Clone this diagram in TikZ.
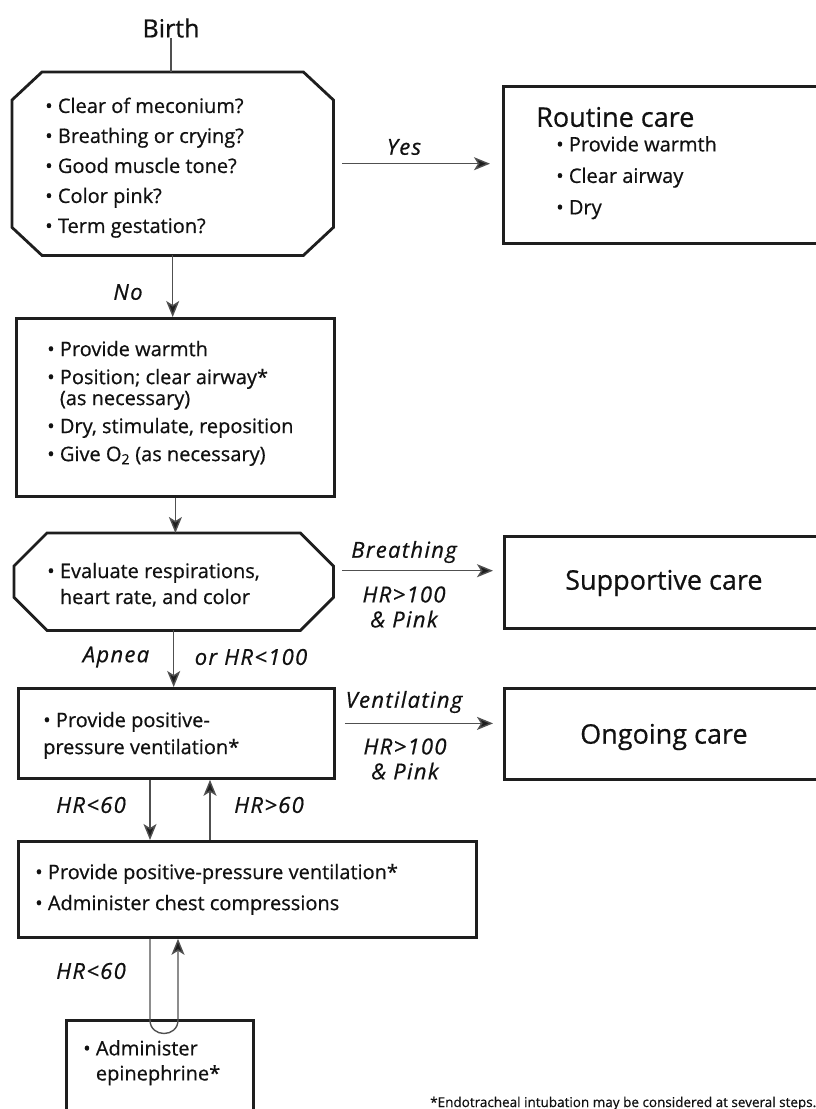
\documentclass[tikz,border=0pt]{standalone}
\usepackage{fontspec}
\setmainfont{Open Sans}[FakeBold=0.6]
\usetikzlibrary{arrows.meta,calc}
\definecolor{ink}{HTML}{111111}
\definecolor{pen}{HTML}{1E1E1E}
\definecolor{wire}{HTML}{505050}
\tikzset{
  frame/.style={draw=pen, line width=2.8pt, inner sep=0pt, minimum width=#1},
  ghost/.style={draw=none, inner sep=0pt},
  octpen/.style={draw=pen, line width=2.8pt, line join=miter},
  body/.style={text=ink, inner sep=0pt, align=left, font=\fontsize{20}{30}\selectfont},
  title/.style={text=ink, inner sep=0pt, align=left, font=\fontsize{27}{32}\selectfont},
  lbl/.style={text=ink, inner sep=0pt, font=\fontsize{22}{24}\selectfont\itshape\addfontfeatures{LetterSpace=6}},
  wireline/.style={draw=wire, line width=1.4pt},
  arr/.style={wireline, -{Stealth[length=16pt,width=13pt,inset=4pt,fill=pen]}},
}
\newcommand{\bul}{\textbullet\ }
\newcommand{\hang}{\hphantom{\textbullet\ }}
\begin{document}
\begin{tikzpicture}[x=1pt,y=-1pt]
\useasboundingbox (0,0) rectangle (816,1109);
\clip (0,0) rectangle (816,1109);
\fill[white] (0,0) rectangle (816,1109);

% ---------- Birth ----------
\node[text=ink, inner sep=0pt, font=\fontsize{25}{28}\selectfont] (birth) at (171,28) {Birth};

% ---------- octagon 1 ----------
\node[ghost, anchor=north west, minimum width=321pt, minimum height=183pt] (q1) at (12,72) {};
\draw[octpen] ($(q1.north west)+(30,0)$) -- ($(q1.north east)+(-30,0)$) -- ($(q1.north east)+(0,28)$)
  -- ($(q1.south east)+(0,-28)$) -- ($(q1.south east)+(-30,0)$) -- ($(q1.south west)+(30,0)$)
  -- ($(q1.south west)+(0,-28)$) -- ($(q1.north west)+(0,28)$) -- cycle;
\node[body, anchor=west] (q1t) at ($(q1.west)+(33,4)$) {\bul Clear of meconium?\\ \bul Breathing or crying?\\ \bul Good muscle tone?\\ \bul Color pink?\\ \bul Term gestation?};

% ---------- routine care ----------
\node[frame=400pt, anchor=north west, minimum height=157pt] (rout) at (502,85) {};
\node[title, anchor=west] (routt) at (536,117) {Routine care};
\node[body, anchor=north west, font=\fontsize{20}{31.5}\selectfont] (routb) at (556,136) {\bul Provide warmth\\ \bul Clear airway\\ \bul Dry};

% ---------- box 2 ----------
\node[frame=318pt, anchor=north west, minimum height=178pt] (b2) at (15,317) {};
\node[body, anchor=west, font=\fontsize{20}{28}\selectfont] (b2t) at ($(b2.west)+(32,-4)$) {\bul Provide warmth\\ \bul Position; clear airway*\\[-7pt] \hang(as necessary)\\ \bul Dry, stimulate, reposition\\ \bul Give O\textsubscript{2} (as necessary)};

% ---------- octagon 2 ----------
\node[ghost, anchor=north west, minimum width=319pt, minimum height=97pt] (q2) at (14,533) {};
\draw[octpen] ($(q2.north west)+(33,0)$) -- ($(q2.north east)+(-33,0)$) -- ($(q2.north east)+(0,33)$)
  -- ($(q2.south east)+(0,-33)$) -- ($(q2.south east)+(-33,0)$) -- ($(q2.south west)+(33,0)$)
  -- ($(q2.south west)+(0,-33)$) -- ($(q2.north west)+(0,33)$) -- cycle;
\node[body, anchor=west, font=\fontsize{20}{26}\selectfont] (q2t) at ($(q2.west)+(33,3)$) {\bul Evaluate respirations,\\ \hang heart rate, and color};

% ---------- supportive care ----------
\node[frame=400pt, anchor=north west, minimum height=92pt] (sup) at (503,535) {};
\node[title, anchor=west] (supt) at (565,583) {Supportive care};

% ---------- box 3 ----------
\node[frame=316pt, anchor=north west, minimum height=90pt] (b3) at (17,687) {};
\node[body, anchor=west, font=\fontsize{20}{27}\selectfont] (b3t) at ($(b3.west)+(26,2)$) {\bul Provide positive-\\ pressure ventilation*};

% ---------- ongoing care ----------
\node[frame=400pt, anchor=north west, minimum height=91pt] (ong) at (503,687) {};
\node[title, anchor=west] (ongt) at (580,737) {Ongoing care};

% ---------- box 4 ----------
\node[frame=458pt, anchor=north west, minimum height=96pt] (b4) at (17,840) {};
\node[body, anchor=west, font=\fontsize{20}{31}\selectfont] (b4t) at ($(b4.west)+(18,0)$) {\bul Provide positive-pressure ventilation*\\ \bul Administer chest compressions};

% ---------- box 5 ----------
\node[frame=187pt, anchor=north west, minimum height=140pt] (b5) at (65,1019) {};
\node[body, anchor=north west, font=\fontsize{20}{25}\selectfont] (b5t) at (83,1040) {\bul Administer\\ \hang epinephrine*};

% ---------- footnote ----------
\node[text=ink, inner sep=0pt, anchor=base west, font=\fontsize{13.5}{16}\selectfont] (foot) at (430,1107) {*Endotracheal intubation may be considered at several steps.};

% ---------- helper columns ----------
\coordinate (cA) at (150,0);
\coordinate (cB) at (210,0);
\coordinate (cC) at (178,0);
\coordinate (loopL) at (150,1020);
\coordinate (loopR) at (178,1020);

% ---------- connectors ----------
\draw[wireline] (birth.south) -- (birth.south |- q1.north);
\draw[arr] (q1.south) -- (q1.south |- b2.north);
\draw[arr, shorten <=9pt, shorten >=12pt] (q1.east) -- (rout.west |- q1.east);
\draw[arr] (b2.south) -- (b2.south |- q2.north);
\draw[arr, shorten <=9pt, shorten >=10pt] ([yshift=11pt]q2.east) -- ([yshift=11pt]q2.east -| sup.west);
\draw[arr] (q2.south) -- (q2.south |- b3.north);
\draw[arr, shorten <=9pt, shorten >=10pt] ([yshift=10pt]b3.east) -- ([yshift=10pt]b3.east -| ong.west);
\draw[arr] (cA |- b3.south) -- (cA |- b4.north);
\draw[arr] (cB |- b4.north) -- (cB |- b3.south);
\draw[arr] (cA |- b4.south) -- (loopL) .. controls ($(loopL)+(0,18)$) and ($(loopR)+(0,18)$) .. (loopR) -- (cC |- b4.south);

% ---------- labels ----------
\node[lbl] (lyes) at (404,147) {Yes};
\node[lbl] (lno) at (128,292) {No};
\node[lbl] (lbr) at (404,552) {Breathing};
\node[lbl, align=center, font=\fontsize{22}{25}\selectfont\itshape\addfontfeatures{LetterSpace=6}] (lbr2) at (404,607) {HR>100\\ \& Pink};
\node[lbl] (lap) at (116,657) {Apnea};
\node[lbl] (lor) at (251,657) {or HR<100};
\node[lbl] (lven) at (404,702) {Ventilating};
\node[lbl, align=center, font=\fontsize{22}{25}\selectfont\itshape\addfontfeatures{LetterSpace=6}] (lven2) at (405,759) {HR>100\\ \& Pink};
\node[lbl] (l60a) at (91,805) {HR<60};
\node[lbl] (l60b) at (269,805) {HR>60};
\node[lbl] (l60c) at (91,971) {HR<60};
\end{tikzpicture}
\end{document}
